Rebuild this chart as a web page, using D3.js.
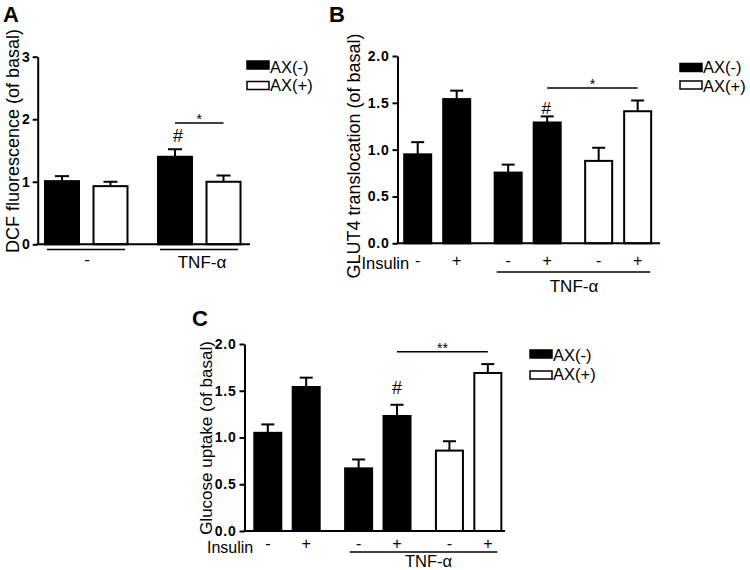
<!DOCTYPE html>
<html><head><meta charset="utf-8">
<script src="https://cdn.jsdelivr.net/npm/d3@7"></script>
<style>
body{margin:0;background:#fff}
svg{display:block}
text{font-family:"Liberation Sans",Arial,Helvetica,sans-serif;fill:#000}
</style>
</head><body>
<svg id="chart" width="750" height="570"></svg>
<script>
// ---------- data ----------
const legendNames = ["AX(-)", "AX(+)"];

// Panel A: DCF fluorescence
const aGroupLabels = ["-", "TNF-α"];
const aSeries = ["AX(-)", "AX(+)", "AX(-)", "AX(+)"];
const aGroupOf = [0, 0, 1, 1];
const aMeans = [1.01, 0.93, 1.40, 1.00];
const aErrors = [0.08, 0.07, 0.12, 0.10];
const aTicks = [0, 1, 2, 3];
const aTickLabels = ["0", "1", "2", "3"];
const aSig = [{from: 2, to: 3, level: 1.94, label: "*"}];
const aHash = [{bar: 2, level: 1.64, label: "#"}];

// Panel B: GLUT4 translocation
const bInsulin = ["-", "+", "-", "+", "-", "+"];
const bSeries = ["AX(-)", "AX(-)", "AX(-)", "AX(-)", "AX(+)", "AX(+)"];
const bGroupOf = [0, 0, 1, 1, 2, 2];
const bMeans = [0.95, 1.54, 0.755, 1.29, 0.88, 1.41];
const bErrors = [0.13, 0.09, 0.085, 0.065, 0.14, 0.115];
const bTicks = [0, 0.5, 1.0, 1.5, 2.0];
const bTickLabels = ["0.0", "0.5", "1.0", "1.5", "2.0"];
const bSig = [{from: 3, to: 5, level: 1.658, label: "*"}];
const bHash = [{bar: 3, level: 1.383, label: "#"}];

// Panel C: Glucose uptake
const cInsulin = ["-", "+", "-", "+", "-", "+"];
const cSeries = ["AX(-)", "AX(-)", "AX(-)", "AX(-)", "AX(+)", "AX(+)"];
const cGroupOf = [0, 0, 1, 1, 2, 2];
const cMeans = [1.05, 1.54, 0.67, 1.23, 0.86, 1.69];
const cErrors = [0.09, 0.10, 0.095, 0.12, 0.10, 0.095];
const cTicks = [0, 0.5, 1.0, 1.5, 2.0];
const cTickLabels = ["0.0", "0.5", "1.0", "1.5", "2.0"];
const cSig = [{from: 3, to: 5, level: 1.918, label: "**"}];
const cHash = [{bar: 3, level: 1.465, label: "#"}];

const seriesFill = d3.scaleOrdinal().domain(legendNames).range(["#000", "#fff"]);

// ---------- drawing ----------
const svg = d3.select("#chart");

function drawPanel(p) {
  const g = svg.append("g");
  const y = d3.scaleLinear().domain(p.yDomain).range([p.yBottom, p.yTop]);
  const x = d3.scaleLinear().domain([0, 1]).range([p.c0, p.c0 + p.step]);
  const slot = i => i + p.groupOf[i] * p.gap;
  const cx = i => x(slot(i));

  // bars
  g.selectAll("rect.bar").data(p.means).join("rect")
    .attr("class", "bar")
    .attr("x", (d, i) => cx(i) - p.barW / 2)
    .attr("y", d => y(d))
    .attr("width", p.barW)
    .attr("height", d => y(0) - y(d))
    .attr("fill", (d, i) => seriesFill(p.series[i]))
    .attr("stroke", "#000").attr("stroke-width", 2);

  // error bars (upper only)
  const eb = g.selectAll("g.err").data(p.means).join("g").attr("class", "err");
  eb.append("line")
    .attr("x1", (d, i) => cx(i)).attr("x2", (d, i) => cx(i))
    .attr("y1", d => y(d)).attr("y2", (d, i) => y(d + p.errors[i]))
    .attr("stroke", "#000").attr("stroke-width", 2);
  eb.append("line")
    .attr("x1", (d, i) => cx(i) - p.capW / 2).attr("x2", (d, i) => cx(i) + p.capW / 2)
    .attr("y1", (d, i) => y(d + p.errors[i])).attr("y2", (d, i) => y(d + p.errors[i]))
    .attr("stroke", "#000").attr("stroke-width", 2);

  // y axis
  const ax = g.append("g").attr("transform", `translate(${p.axisX},0)`)
    .call(d3.axisLeft(y).tickValues(p.ticks).tickFormat((d, i) => p.tickLabels[i])
      .tickSize(5).tickSizeOuter(0).tickPadding(3));
  ax.select(".domain").attr("stroke-width", 2);
  ax.selectAll(".tick line").attr("stroke-width", 2);
  ax.selectAll(".tick text").attr("font-size", 14).attr("font-weight", "bold")
    .attr("font-family", "'Liberation Sans',Arial,sans-serif").attr("fill", "#000")
    .attr("letter-spacing", p.tickSpacing);

  // x baseline
  g.append("line").attr("x1", p.axisX - 1).attr("x2", p.xEnd)
    .attr("y1", y(0)).attr("y2", y(0)).attr("stroke", "#000").attr("stroke-width", 2);

  // y title
  g.append("text")
    .attr("transform", `translate(${p.titleX},${p.titleY}) rotate(-90)`)
    .attr("text-anchor", "middle").attr("font-size", p.titleSize)
    .text(p.title);

  // panel letter
  g.append("text").attr("x", p.letterX).attr("y", p.letterY)
    .attr("font-size", 22).attr("font-weight", "bold").text(p.letter);

  // legend
  const lg = g.selectAll("g.leg").data(legendNames).join("g").attr("class", "leg");
  lg.append("rect")
    .attr("x", p.legX).attr("y", (d, i) => p.legRectY[i])
    .attr("width", 22).attr("height", 8)
    .attr("fill", d => seriesFill(d)).attr("stroke", "#000").attr("stroke-width", 1.5);
  lg.append("text")
    .attr("x", p.legX + 23).attr("y", (d, i) => p.legTextY[i])
    .attr("font-size", 16.5).text(d => d);

  // significance
  p.sig.forEach(s => {
    g.append("line").attr("x1", cx(s.from)).attr("x2", cx(s.to))
      .attr("y1", y(s.level)).attr("y2", y(s.level))
      .attr("stroke", "#000").attr("stroke-width", 1.5);
    g.append("text").attr("x", (cx(s.from) + cx(s.to)) / 2).attr("y", y(s.level) + 1)
      .attr("text-anchor", "middle").attr("font-size", 14).text(s.label);
  });
  p.hash.forEach(h => {
    g.append("text").attr("x", cx(h.bar) + p.hashDx).attr("y", y(h.level))
      .attr("text-anchor", "middle").attr("font-size", p.hashSize).text(h.label);
  });
  return {g, cx, y};
}

// ----- Panel A -----
const A = drawPanel({
  yDomain: [0, 3], yBottom: 244.3, yTop: 56.7,
  c0: 62, step: 48.5, gap: 0.33, barW: 34, capW: 14,
  groupOf: aGroupOf, series: aSeries, means: aMeans, errors: aErrors,
  ticks: aTicks, tickLabels: aTickLabels, tickSpacing: 0,
  axisX: 37.7, xEnd: 250,
  title: "DCF fluorescence (of basal)", titleX: 18.5, titleY: 141, titleSize: 18,
  letter: "A", letterX: 3, letterY: 22,
  legX: 247, legRectY: [61, 81.5], legTextY: [72.5, 91],
  sig: aSig, hash: aHash, hashDx: 3, hashSize: 18
});
// group underlines for A
const aGroupIdx = [[0, 1], [2, 3]];
aGroupIdx.forEach((pair, gi) => {
  const x1 = A.cx(pair[0]) - 15, x2 = A.cx(pair[1]) + 14.5;
  A.g.append("line").attr("x1", x1).attr("x2", x2).attr("y1", 249.5).attr("y2", 249.5)
    .attr("stroke", "#000").attr("stroke-width", 1.5);
  A.g.append("text").attr("x", (x1 + x2) / 2 + (gi === 0 ? 1 : 3)).attr("y", gi === 0 ? 265 : 268)
    .attr("text-anchor", "middle").attr("font-size", 17).text(aGroupLabels[gi]);
});

// ----- Panel B -----
const B = drawPanel({
  yDomain: [0, 2], yBottom: 243.3, yTop: 56,
  c0: 417.7, step: 39, gap: 0.32, barW: 27, capW: 13,
  groupOf: bGroupOf, series: bSeries, means: bMeans, errors: bErrors,
  ticks: bTicks, tickLabels: bTickLabels, tickSpacing: 0.8,
  axisX: 397.5, xEnd: 660,
  title: "GLUT4 translocation (of basal)", titleX: 359.5, titleY: 156, titleSize: 18,
  letter: "B", letterX: 329, letterY: 22,
  legX: 680, legRectY: [63.5, 81], legTextY: [73, 91.5],
  sig: bSig, hash: bHash, hashDx: -1, hashSize: 17
});

// ----- Panel C -----
const C = drawPanel({
  yDomain: [0, 2], yBottom: 531, yTop: 344,
  c0: 267.8, step: 38.4, gap: 0.365, barW: 27, capW: 13,
  groupOf: cGroupOf, series: cSeries, means: cMeans, errors: cErrors,
  ticks: cTicks, tickLabels: cTickLabels, tickSpacing: 0.8,
  axisX: 244.5, xEnd: 505,
  title: "Glucose uptake (of basal)", titleX: 212, titleY: 438, titleSize: 17,
  letter: "C", letterX: 192, letterY: 326,
  legX: 530, legRectY: [350, 371], legTextY: [360.5, 379.5],
  sig: cSig, hash: cHash, hashDx: 0, hashSize: 18
});

// Insulin rows and TNF-α underline for B and C
function insulinRow(P, labels, opts) {
  P.g.append("text").attr("x", opts.insX).attr("y", opts.base)
    .attr("font-size", opts.insSize).text("Insulin");
  P.g.selectAll("text.ins").data(labels).join("text").attr("class", "ins")
    .attr("x", (d, i) => P.cx(i)).attr("y", opts.pmBase)
    .attr("text-anchor", "middle").attr("font-size", 16).text(d => d);
  P.g.append("line").attr("x1", opts.lineX1).attr("x2", opts.lineX2)
    .attr("y1", opts.lineY).attr("y2", opts.lineY)
    .attr("stroke", "#000").attr("stroke-width", 1.5);
  P.g.append("text").attr("x", opts.tnfX).attr("y", opts.tnfY)
    .attr("text-anchor", "middle").attr("font-size", opts.tnfSize).text("TNF-α");
}
insulinRow(B, bInsulin, {insX: 361.5, base: 268.5, insSize: 16.5, pmBase: 266, lineX1: B.cx(2) - 11.5, lineX2: B.cx(5) + 12.5, lineY: 272, tnfX: 574, tnfY: 292, tnfSize: 17});
insulinRow(C, cInsulin, {insX: 207, base: 553, insSize: 16, pmBase: 549, lineX1: C.cx(2) - 9, lineX2: C.cx(5) + 9.5, lineY: 552, tnfX: 428.5, tnfY: 566.5, tnfSize: 16.5});
</script>
</body></html>
